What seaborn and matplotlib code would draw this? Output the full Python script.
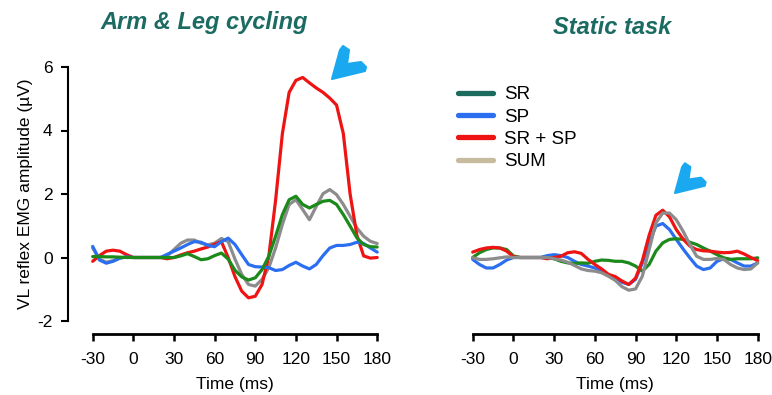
import numpy as np
import pandas as pd
import matplotlib
matplotlib.use("Agg")
import matplotlib.pyplot as plt
from matplotlib.lines import Line2D
from matplotlib.patches import Polygon
import seaborn as sns

# ---------------- Data ----------------
time_ms = [-30, -25, -20, -15, -10, -5, 0, 5, 10, 15, 20, 25, 30, 35, 40,
           45, 50, 55, 60, 65, 70, 75, 80, 85, 90, 95, 100, 105, 110, 115,
           120, 125, 130, 135, 140, 145, 150, 155, 160, 165, 170, 175, 180]

# Arm & Leg cycling
cyc_sr = [0.03, 0.03, 0.02, 0.02, 0.01, 0.0, 0.0, 0.0, 0.0, 0.0, 0.0, 0.0, 0.0,
          0.05, 0.12, 0.03, -0.07, -0.04, 0.06, 0.14, -0.05, -0.4, -0.61, -0.71,
          -0.64, -0.38, 0.04, 0.67, 1.35, 1.82, 1.93, 1.67, 1.56, 1.67, 1.77,
          1.8, 1.67, 1.35, 0.99, 0.62, 0.41, 0.34, 0.33]
cyc_sp = [0.35, -0.08, -0.18, -0.12, -0.02, 0.02, 0.0, 0.0, 0.0, 0.0, 0.0, 0.1,
          0.2, 0.3, 0.41, 0.5, 0.48, 0.38, 0.34, 0.5, 0.61, 0.41, 0.09, -0.22,
          -0.29, -0.3, -0.32, -0.41, -0.38, -0.25, -0.15, -0.27, -0.36, -0.22,
          0.06, 0.3, 0.38, 0.38, 0.41, 0.48, 0.44, 0.3, 0.17]
cyc_srsp = [-0.12, 0.06, 0.2, 0.23, 0.2, 0.09, 0.0, 0.0, 0.0, 0.0, 0.0, -0.04,
            0.0, 0.08, 0.15, 0.2, 0.27, 0.33, 0.42, 0.5, 0.0, -0.6, -1.06, -1.27,
            -1.22, -0.85, 0.04, 1.8, 3.9, 5.2, 5.58, 5.67, 5.5, 5.34, 5.2, 5.02,
            4.8, 3.9, 2.0, 0.7, 0.05, -0.02, 0.0]
cyc_sum = [0.3, -0.05, -0.15, -0.1, -0.02, 0.02, 0.0, 0.0, 0.0, 0.0, 0.0, 0.05,
           0.25, 0.45, 0.55, 0.55, 0.45, 0.4, 0.45, 0.6, 0.5, -0.05, -0.53,
           -0.85, -0.9, -0.69, -0.32, 0.3, 1.04, 1.67, 1.82, 1.51, 1.19, 1.61,
           2.01, 2.14, 1.98, 1.67, 1.3, 0.93, 0.67, 0.51, 0.44]

# Static task
sta_sr = [0.0, 0.15, 0.25, 0.3, 0.3, 0.25, 0.05, 0.0, 0.0, 0.0, 0.0, 0.0, -0.04,
          -0.12, -0.17, -0.19, -0.17, -0.18, -0.12, -0.08, -0.09, -0.12, -0.12,
          -0.17, -0.27, -0.43, -0.22, 0.2, 0.46, 0.57, 0.59, 0.57, 0.48, 0.41,
          0.3, 0.2, 0.09, -0.01, -0.06, -0.04, -0.04, -0.04, -0.01]
sta_sp = [-0.06, -0.22, -0.33, -0.33, -0.22, -0.08, 0.0, 0.0, 0.0, 0.0, 0.0,
          0.06, 0.09, 0.06, 0.0, -0.12, -0.22, -0.27, -0.33, -0.43, -0.57,
          -0.65, -0.78, -0.85, -0.69, -0.17, 0.46, 0.99, 1.07, 0.88, 0.57, 0.27,
          -0.01, -0.27, -0.38, -0.33, -0.12, -0.04, -0.06, -0.17, -0.27, -0.27,
          -0.17]
sta_srsp = [0.17, 0.25, 0.3, 0.32, 0.3, 0.2, 0.02, 0.0, 0.0, 0.0, 0.0, -0.04,
            0.0, 0.04, 0.15, 0.18, 0.13, -0.06, -0.22, -0.36, -0.53, -0.6, -0.74,
            -0.85, -0.65, -0.1, 0.7, 1.33, 1.49, 1.28, 0.88, 0.58, 0.36, 0.25,
            0.21, 0.2, 0.17, 0.15, 0.16, 0.2, 0.11, 0.0, -0.1]
sta_sum = [-0.01, -0.06, -0.06, -0.04, -0.01, 0.02, 0.0, 0.0, 0.0, 0.0, 0.0, 0.0,
           -0.04, -0.08, -0.15, -0.25, -0.36, -0.41, -0.43, -0.48, -0.59, -0.72,
           -0.92, -1.03, -0.99, -0.59, 0.25, 1.09, 1.4, 1.4, 1.19, 0.83, 0.41,
           0.04, -0.06, -0.06, -0.03, -0.06, -0.22, -0.33, -0.38, -0.36, -0.17]

series_names = ["SR", "SP", "SR + SP", "SUM"]
x_ticks = [-30, 0, 30, 60, 90, 120, 150, 180]
y_ticks = [-2, 0, 2, 4, 6]

# ---------------- Style ----------------
line_colors = {"SR": "#1b8a1b", "SP": "#2b6ff0",
               "SR + SP": "#ee1414", "SUM": "#8c8c8c"}
legend_colors = {"SR": "#1d6b5f", "SP": "#2b6ff0",
                 "SR + SP": "#ee1414", "SUM": "#c6bb9c"}
title_color = "#1b6b63"
arrow_color = "#1aa8f0"

sns.set_style("ticks")
plt.rcParams["font.family"] = ["Liberation Sans", "DejaVu Sans"]
plt.rcParams.update({
    "text.color": "black",
    "axes.labelcolor": "black",
    "axes.edgecolor": "black",
    "xtick.color": "black",
    "ytick.color": "black",
    "lines.solid_joinstyle": "round",
    "lines.solid_capstyle": "round",
})


def long_form(values):
    frames = []
    for name, vals in zip(series_names, values):
        frames.append(pd.DataFrame({"time": time_ms, "value": vals,
                                    "series": name}))
    return pd.concat(frames, ignore_index=True)


df_cyc = long_form([cyc_sr, cyc_sp, cyc_srsp, cyc_sum])
df_sta = long_form([sta_sr, sta_sp, sta_srsp, sta_sum])

W, H = 772, 395
fig = plt.figure(figsize=(W / 100, H / 100), dpi=100)

ax1 = fig.add_axes([92.7 / W, 1 - 321 / H, 284.5 / W, 254 / H])
ax2 = fig.add_axes([472.7 / W, 1 - 321 / H, 285 / W, 254 / H])

sns.lineplot(data=df_cyc, x="time", y="value", hue="series",
             hue_order=["SUM", "SR + SP", "SP", "SR"], palette=line_colors,
             linewidth=2.3, legend=False, ax=ax1)
sns.lineplot(data=df_sta, x="time", y="value", hue="series",
             hue_order=["SP", "SR", "SR + SP", "SUM"], palette=line_colors,
             linewidth=2.3, legend=False, ax=ax2)

fs = 12.5
for ax in (ax1, ax2):
    ax.set_xlim(-30, 180)
    ax.set_ylim(-2, 6)
    ax.set_xticks(x_ticks)
    ax.set_xticklabels([str(t) for t in x_ticks])
    ax.set_xlabel("Time (ms)", fontsize=fs, labelpad=7)
    ax.tick_params(axis="x", direction="out", length=5, width=1.8,
                   labelsize=fs, pad=8)
    for line in ax.lines:
        line.set_clip_on(False)

ax1.set_yticks(y_ticks)
ax1.set_yticklabels([str(t) for t in y_ticks])
ax1.tick_params(axis="y", direction="out", length=5, width=1.5,
                labelsize=fs, pad=6)
ax1.set_ylabel("VL reflex EMG amplitude (\u00b5V)", fontsize=fs)
ax1.yaxis.set_label_coords(-0.21, 0.5)
sns.despine(ax=ax1, offset={"left": 17.8, "bottom": 9.4}, trim=True)
ax1.spines["left"].set_linewidth(1.5)
ax1.spines["bottom"].set_linewidth(2.0)

ax2.set_ylabel("")
ax2.set_yticks([])
sns.despine(ax=ax2, left=True, offset={"bottom": 9.4}, trim=True)
ax2.spines["bottom"].set_linewidth(2.0)

# titles
fig.text(204 / W, 1 - 23 / H, "Arm & Leg cycling", ha="center", va="center",
         fontsize=17, fontweight="bold", fontstyle="italic", color=title_color)
fig.text(612 / W, 1 - 27 / H, "Static task", ha="center", va="center",
         fontsize=17, fontweight="bold", fontstyle="italic", color=title_color)

# legend
handles = [Line2D([0], [0], color=legend_colors[n], lw=3.8) for n in series_names]
fig.legend(handles, series_names, loc="upper left",
           bbox_to_anchor=(458 / W, 1 - 86 / H), frameon=False, fontsize=13.5,
           handlelength=1.85, handletextpad=0.6, labelspacing=0.28,
           borderpad=0, borderaxespad=0)

# arrows pointing at the peaks
arrow_shape = [(0, 0), (8, -29), (11, -33), (17, -29), (15, -15),
               (29, -17), (34, -12), (33, -8)]


def add_arrow(tip_x, tip_y, scale):
    pts = [((tip_x + dx * scale) / W, 1 - (tip_y + dy * scale) / H)
           for dx, dy in arrow_shape]
    fig.add_artist(Polygon(pts, closed=True, transform=fig.transFigure,
                           facecolor=arrow_color, edgecolor=arrow_color,
                           linewidth=1.5, joinstyle="round"))


add_arrow(332, 79, 1.0)
add_arrow(675, 193, 0.9)

fig.savefig("out.png", dpi=100)
